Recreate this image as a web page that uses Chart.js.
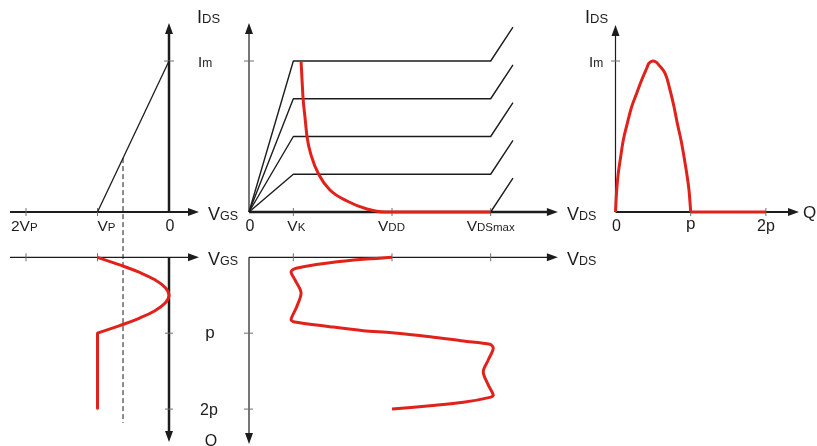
<!DOCTYPE html>
<html><head><meta charset="utf-8">
<script src="https://cdn.jsdelivr.net/npm/chart.js@4"></script>
<style>html,body{margin:0;padding:0;background:#fff;}canvas{display:block}</style>
</head><body>
<canvas id="c" width="817" height="446"></canvas>
<script>
// ================= DATA =================
// Transfer characteristic: VGS in units of |VP| (VP = -1), IDS in units of Im
const transferVGS = [-1, 0];
const transferIDS = [0, 1];
// dashed projection line (VGS, IDS)
const projVGS = [-0.643, -0.643];
const projIDS = [0.357, -1.397];
// Gate voltage waveform: angle Q in units of p, VGS in units of |VP|
const gateTheta = [0, 0.1, 0.2, 0.3, 0.4, 0.5, 0.6, 0.7, 0.8, 0.9, 1.0];
const gateVGS   = [-1, -0.69, -0.41, -0.19, -0.05, 0, -0.05, -0.19, -0.41, -0.69, -1];
const gateTailTheta = [1.0, 1.99];
const gateTailVGS   = [-1, -1];
// Output characteristics
const VK = 3.1, VDD = 10, VDSMAX = 16.9;
const outLevels = [1, 0.75, 0.5, 0.25, 0];
const outVDS = [0, VK, VDSMAX, 18.46];
const breakdownRise = 0.225;
// Dynamic load curve
const loadVDS = [3.64, 3.71, 3.78, 3.92, 4.06, 4.34, 4.90, 5.66, 6.85, 8.25, 9.51, 16.9];
const loadIDS = [1.0, 0.874, 0.755, 0.623, 0.497, 0.377, 0.245, 0.146, 0.073, 0.02, 0, 0];
// Drain voltage waveform
const drainTheta = [0, 0.026, 0.071, 0.124, 0.158, 0.198, 0.299, 0.466, 0.651, 0.817, 0.848, 0.914, 0.967, 0.993, 1.046, 1.103, 1.146, 1.199, 1.353, 1.507, 1.682, 1.814, 1.845, 1.910, 1.955, 2.0];
const drainVDS   = [10.0, 8.0, 5.66, 3.80, 3.10, 2.94, 3.22, 3.64, 3.34, 2.94, 3.10, 5.66, 7.99, 10.0, 12.66, 14.99, 16.85, 17.08, 16.73, 16.38, 16.73, 17.08, 16.85, 14.99, 12.66, 10.0];
// Drain current pulse
const pulseTheta = [0, 0.016, 0.037, 0.069, 0.104, 0.157, 0.215, 0.282, 0.348, 0.415, 0.445, 0.495, 0.539, 0.569, 0.658, 0.725, 0.778, 0.822, 0.871, 0.911, 0.947, 0.977, 1.0];
const pulseIDS   = [0, 0.146, 0.256, 0.366, 0.477, 0.587, 0.697, 0.786, 0.874, 0.952, 0.985, 1.0, 0.993, 0.978, 0.919, 0.808, 0.697, 0.587, 0.477, 0.366, 0.256, 0.146, 0];
const pulseTailTheta = [1.0, 2.0];
const pulseTailIDS   = [0, 0];
// Tick values
const vgsTicks = [-2, -1, 0];
const vdsTicks = [0, VK, VDD, VDSMAX];
const thetaTicks = [1, 2];
const qTicks = [0, 1, 2];

// ================= STYLE =================
const BLACK = '#1c1c1c', GRAY = '#707070', RED = '#e1221b';
const FONT = '"Liberation Sans", Arial, Helvetica, sans-serif';

const pts = (xs, ys) => xs.map((x, i) => ({x, y: ys[i]}));

const datasets = [];
datasets.push({data: pts(loadVDS, loadIDS), xAxisID: 'xD', yAxisID: 'yI', borderColor: RED, borderWidth: 3, cubicInterpolationMode: 'monotone', order: 0});
datasets.push({data: pts(pulseTheta, pulseIDS), xAxisID: 'xQ', yAxisID: 'yI', borderColor: RED, borderWidth: 3, tension: 0.4, order: 0});
datasets.push({data: pts(pulseTailTheta, pulseTailIDS), xAxisID: 'xQ', yAxisID: 'yI', borderColor: RED, borderWidth: 3, order: 0});
datasets.push({data: pts(gateVGS, gateTheta), xAxisID: 'xV', yAxisID: 'yT', borderColor: RED, borderWidth: 3, tension: 0.4, order: 0});
datasets.push({data: pts(gateTailVGS, gateTailTheta), xAxisID: 'xV', yAxisID: 'yT', borderColor: RED, borderWidth: 3, order: 0});
datasets.push({data: pts(drainVDS, drainTheta), xAxisID: 'xD', yAxisID: 'yT', borderColor: RED, borderWidth: 3, tension: 0.3, order: 0});
datasets.push({data: pts(transferVGS, transferIDS), xAxisID: 'xV', yAxisID: 'yI', borderColor: BLACK, borderWidth: 1.3, order: 1});
datasets.push({data: pts(projVGS, projIDS), xAxisID: 'xV', yAxisID: 'yI', borderColor: BLACK, borderWidth: 1, borderDash: [5, 3], order: 1});
outLevels.forEach((L, i) => {
  const ys = [0, L, L, L + breakdownRise];
  datasets.push({data: pts(outVDS, ys), xAxisID: 'xD', yAxisID: 'yI', borderColor: BLACK, borderWidth: 1.4, order: 1});
});
datasets.forEach(d => { d.showLine = true; d.pointRadius = 0; d.pointHoverRadius = 0; d.fill = false; d.borderJoinStyle = 'round'; });

function arrow(ctx, x1, y1, x2, y2, w) {
  const a = Math.atan2(y2 - y1, x2 - x1), L = 11, H = 4;
  ctx.strokeStyle = BLACK; ctx.fillStyle = BLACK; ctx.lineWidth = w;
  ctx.beginPath(); ctx.moveTo(x1, y1); ctx.lineTo(x2 - Math.cos(a) * L * 0.7, y2 - Math.sin(a) * L * 0.7); ctx.stroke();
  ctx.beginPath(); ctx.moveTo(x2, y2);
  ctx.lineTo(x2 - L * Math.cos(a) + H * Math.sin(a), y2 - L * Math.sin(a) - H * Math.cos(a));
  ctx.lineTo(x2 - L * Math.cos(a) - H * Math.sin(a), y2 - L * Math.sin(a) + H * Math.cos(a));
  ctx.closePath(); ctx.fill();
}
function seg(ctx, x1, y1, x2, y2, w, c) {
  ctx.strokeStyle = c; ctx.lineWidth = w;
  ctx.beginPath(); ctx.moveTo(x1, y1); ctx.lineTo(x2, y2); ctx.stroke();
}
function label(ctx, x, y, main, sub, ms, ss, align) {
  ctx.fillStyle = BLACK; ctx.textBaseline = 'alphabetic'; ctx.textAlign = 'left';
  ctx.font = ms + 'px ' + FONT; const mw = ctx.measureText(main).width;
  ctx.font = ss + 'px ' + FONT; const sw = sub ? ctx.measureText(sub).width : 0;
  const left = align === 'center' ? x - (mw + sw) / 2 : x;
  ctx.font = ms + 'px ' + FONT; ctx.fillText(main, left, y);
  if (sub) { ctx.font = ss + 'px ' + FONT; ctx.fillText(sub, left + mw, y); }
}

const axesPlugin = {
  id: 'axes',
  beforeDatasetsDraw(chart) {
    const ctx = chart.ctx, s = chart.scales;
    const P = (id, v) => s[id].getPixelForValue(v);
    ctx.save();
    ctx.lineCap = 'butt';
    const yI0 = P('yI', 0), yIm = P('yI', 1), yT0 = P('yT', 0);
    const xV0 = P('xV', 0), xD0 = P('xD', 0), xQ0 = P('xQ', 0);
    // ---- top-left
    arrow(ctx, P('xV', -2.224), yI0, P('xV', 0.42), yI0, 2);
    arrow(ctx, xV0, yI0 + 1, xV0, P('yI', 1.252), 2.5);
    vgsTicks.slice(0, 2).forEach(v => seg(ctx, P('xV', v), yI0 - 4, P('xV', v), yI0 + 4, 1, GRAY));
    seg(ctx, xV0 - 5, yIm, xV0 + 5, yIm, 1, GRAY);
    // ---- bottom-left
    arrow(ctx, P('xV', -2.224), yT0, P('xV', 0.42), yT0, 1.2);
    arrow(ctx, xV0, yT0, xV0, P('yT', 2.435), 2.5);
    vgsTicks.slice(0, 2).forEach(v => seg(ctx, P('xV', v), yT0 - 4, P('xV', v), yT0 + 4, 1, GRAY));
    thetaTicks.forEach(t => seg(ctx, xV0 - 4, P('yT', t), xV0 + 4, P('yT', t), 1, GRAY));
    // ---- top-middle
    arrow(ctx, xD0, yI0, xD0, P('yI', 1.252), 1.2);
    seg(ctx, xD0 - 5, yIm, xD0 + 5, yIm, 1, GRAY);
    arrow(ctx, xD0, yI0, P('xD', 21.6), yI0, 2.5);
    vdsTicks.slice(1).forEach(v => seg(ctx, P('xD', v), yI0 - 4, P('xD', v), yI0 + 4, 1, GRAY));
    // ---- bottom-middle
    arrow(ctx, xD0, yT0, P('xD', 21.6), yT0, 1.2);
    arrow(ctx, xD0, yT0, xD0, P('yT', 2.46), 1.2);
    vdsTicks.slice(1).forEach(v => seg(ctx, P('xD', v), yT0 - 4, P('xD', v), yT0 + 4, 1, GRAY));
    thetaTicks.forEach(t => seg(ctx, xD0 - 5, P('yT', t), xD0 + 4, P('yT', t), 1, GRAY));
    // ---- top-right
    arrow(ctx, xQ0, yI0, xQ0, P('yI', 1.238), 1.2);
    seg(ctx, xQ0 - 4.5, yIm, xQ0 + 4.5, yIm, 1, GRAY);
    arrow(ctx, xQ0, yI0, P('xQ', 2.44), yI0, 2);
    qTicks.slice(1).forEach(v => seg(ctx, P('xQ', v), yI0 - 4, P('xQ', v), yI0 + 4, 1, GRAY));
    ctx.restore();
  },
  afterDatasetsDraw(chart) {
    const ctx = chart.ctx, s = chart.scales;
    const P = (id, v) => s[id].getPixelForValue(v);
    ctx.save();
    const yI0 = P('yI', 0), yIm = P('yI', 1), yT0 = P('yT', 0);
    const base = yI0 + 19;
    // top-left
    label(ctx, 197, P('yI', 1.252), 'I', 'DS', 18, 13);
    label(ctx, 198, yIm + 6, 'I', 'm', 15, 12);
    label(ctx, P('xV', 0.42) + 9, yI0 + 8, 'V', 'GS', 18, 12.5);
    label(ctx, P('xV', -2) - 15, base, '2V', 'P', 15.5, 11.5);
    label(ctx, P('xV', -1), base, 'V', 'P', 15.5, 11.5);
    label(ctx, P('xV', 0) + 1, base, '0', '', 16, 12, 'center');
    // bottom-left
    label(ctx, P('xV', 0.42) + 9, yT0 + 8, 'V', 'GS', 18, 12.5);
    label(ctx, 210, P('yT', 1) + 5, 'p', '', 17, 12, 'center');
    label(ctx, 209, P('yT', 2) + 6, '2p', '', 16, 12, 'center');
    label(ctx, 211, 446, 'Q', '', 16, 12, 'center');
    // top-middle
    label(ctx, P('xD', 0) + 1, base, '0', '', 16, 12, 'center');
    label(ctx, P('xD', VK) - 6, base, 'V', 'K', 15.5, 11.5);
    label(ctx, P('xD', VDD) - 14, base, 'V', 'DD', 15.5, 11.5);
    label(ctx, P('xD', VDSMAX) - 24, base, 'V', 'DSmax', 15.5, 11.5);
    label(ctx, P('xD', 21.6) + 9, yI0 + 8, 'V', 'DS', 18, 12.5);
    // bottom-middle
    label(ctx, P('xD', 21.6) + 9, yT0 + 8, 'V', 'DS', 18, 12.5);
    // top-right
    label(ctx, 585, P('yI', 1.252), 'I', 'DS', 18, 13);
    label(ctx, 589, yIm + 6, 'I', 'm', 15, 12);
    label(ctx, P('xQ', 0) + 1, base, '0', '', 16, 12, 'center');
    label(ctx, P('xQ', 1), base - 2, 'p', '', 17, 12, 'center');
    label(ctx, P('xQ', 2), base, '2p', '', 16, 12, 'center');
    label(ctx, P('xQ', 2.44) + 4, yI0 + 6, 'Q', '', 17, 12);
    ctx.restore();
  }
};

const hid = (axis, min, max, extra) => Object.assign({type: 'linear', axis, display: false, min, max}, extra || {});

new Chart(document.getElementById('c'), {
  type: 'scatter',
  data: {datasets},
  options: {
    responsive: false,
    animation: false,
    devicePixelRatio: 1,
    layout: {padding: 0},
    plugins: {legend: {display: false}, tooltip: {enabled: false}},
    events: [],
    scales: {
      x: hid('x', 0, 1), y: hid('y', 0, 1),
      xV: hid('x', -169 / 71.5, (817 - 169) / 71.5),
      xD: hid('x', -249 / 14.3, (817 - 249) / 14.3),
      xQ: hid('x', -615.5 / 75.2, (817 - 615.5) / 75.2),
      yI: hid('y', -(446 - 212) / 151, 212 / 151),
      yT: hid('y', -257.3 / 75.9, (446 - 257.3) / 75.9, {reverse: true})
    }
  },
  plugins: [axesPlugin]
});
</script>
</body></html>
